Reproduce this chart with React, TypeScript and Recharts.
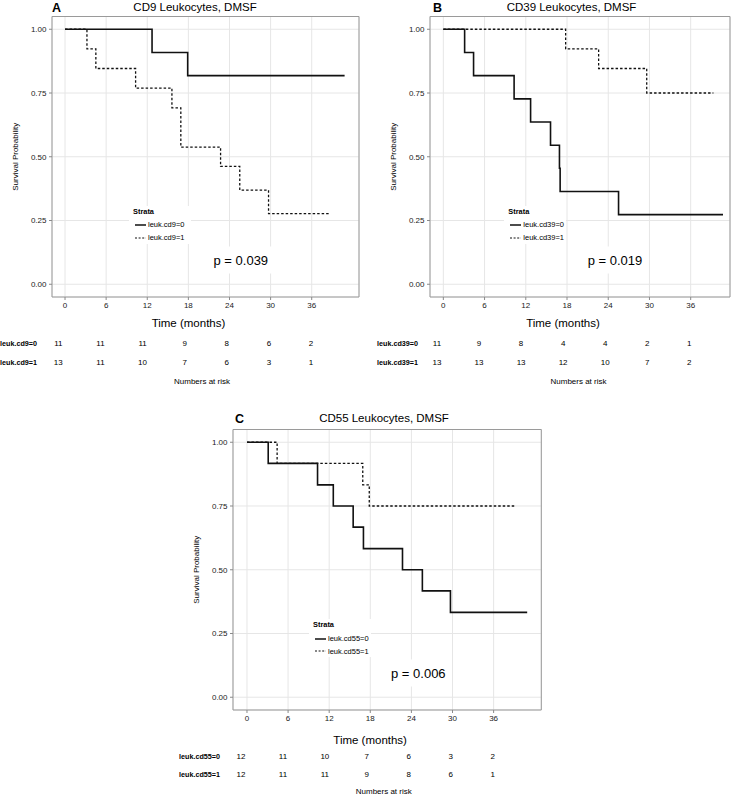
import React from 'react';
import { LineChart, Line, XAxis, YAxis, CartesianGrid, ReferenceArea, ScatterChart, Scatter, Label } from 'recharts';

const FONT = '"Liberation Sans", Arial, Helvetica, sans-serif';

// shared axis ticks
const monthTicks = [0, 6, 12, 18, 24, 30, 36];
const survTicks = [0, 0.25, 0.5, 0.75, 1];
const riskTimes = [0, 6, 12, 18, 24, 30, 36];

// Panel A - CD9
const cd9Time0 = [0, 12.7, 17.9, 40.8];
const cd9Surv0 = [1, 0.909, 0.818, 0.818];
const cd9Time1 = [0, 3.2, 4.5, 10.3, 15.6, 16.9, 22.7, 25.5, 29.7, 38.7];
const cd9Surv1 = [1, 0.923, 0.846, 0.769, 0.692, 0.538, 0.462, 0.369, 0.277, 0.277];
const cd9Risk0 = [11, 11, 11, 9, 8, 6, 2];
const cd9Risk1 = [13, 11, 10, 7, 6, 3, 1];

// Panel B - CD39
const cd39Time0 = [0, 3.1, 4.4, 10.3, 12.7, 15.6, 16.9, 17.0, 25.5, 40.7];
const cd39Surv0 = [1, 0.909, 0.818, 0.727, 0.636, 0.545, 0.455, 0.364, 0.273, 0.273];
const cd39Time1 = [0, 17.8, 22.6, 29.6, 39.3];
const cd39Surv1 = [1, 0.923, 0.846, 0.75, 0.75];
const cd39Risk0 = [11, 9, 8, 4, 4, 2, 1];
const cd39Risk1 = [13, 13, 13, 12, 10, 7, 2];

// Panel C - CD55
const cd55Time0 = [0, 3.1, 10.3, 12.6, 15.5, 17.0, 22.7, 25.6, 29.7, 40.9];
const cd55Surv0 = [1, 0.917, 0.833, 0.75, 0.667, 0.583, 0.5, 0.417, 0.333, 0.333];
const cd55Time1 = [0, 4.4, 16.9, 17.85, 39.3];
const cd55Surv1 = [1, 0.917, 0.833, 0.75, 0.75];
const cd55Risk0 = [12, 11, 10, 7, 6, 3, 2];
const cd55Risk1 = [12, 11, 11, 9, 8, 6, 1];

const toCurve = (time: number[], surv: number[]) => time.map((t, i) => ({ t, s: surv[i] }));

function MainPlot({ left, top, width, height, xDomain, axisH, solid, dashed }: any) {
  return (
    <div style={{ position: 'absolute', left, top }}>
      <LineChart width={width} height={height} margin={{ top: 16.5, right: 8, left: 0, bottom: 5 }}>
        <CartesianGrid stroke="#e6e6e6" />
        <XAxis
          type="number"
          dataKey="t"
          domain={xDomain}
          ticks={monthTicks}
          interval={0}
          allowDataOverflow
          axisLine={false}
          stroke="#8a8a8a"
          tickSize={3}
          tickMargin={2.5}
          tick={{ fontSize: 8, fill: '#1a1a1a' }}
          height={axisH}
        >
          <Label value="Time (months)" position="insideBottom" offset={0} dx={-17} fontSize={11.5} fill="#000" />
        </XAxis>
        <YAxis
          type="number"
          domain={[-0.05, 1.05]}
          ticks={survTicks}
          interval={0}
          allowDataOverflow
          axisLine={false}
          stroke="#8a8a8a"
          tickSize={3}
          tickMargin={2.5}
          tick={{ fontSize: 8, fill: '#1a1a1a' }}
          tickFormatter={(v: number) => v.toFixed(2)}
          width={52}
        >
          <Label value="Survival Probability" angle={-90} position="center" dx={-11} fontSize={8} fill="#000" />
        </YAxis>
        <ReferenceArea x1={xDomain[0]} x2={xDomain[1]} y1={-0.05} y2={1.05} fill="none" stroke="#9a9a9a" strokeWidth={1} />
        <Line data={solid} dataKey="s" type="stepAfter" stroke="#111" strokeWidth={1.6} dot={false} activeDot={false} isAnimationActive={false} />
        <Line data={dashed} dataKey="s" type="stepAfter" stroke="#111" strokeWidth={1.3} strokeDasharray="2.5 2" dot={false} activeDot={false} isAnimationActive={false} />
      </LineChart>
    </div>
  );
}

const RiskCount = (props: any) => (
  <text x={props.cx} y={props.cy} textAnchor="middle" dominantBaseline="central" fontSize={8} fill="#000">
    {props.payload.n}
  </text>
);

function RiskTable({ left, top, width, xDomain, labelW, marginTop, plotH, axisH, labels, rows }: any) {
  const data = rows.flatMap((counts: number[], r: number) => riskTimes.map((t, i) => ({ t, row: r, n: counts[i] })));
  return (
    <div style={{ position: 'absolute', left, top }}>
      <ScatterChart width={width} height={marginTop + plotH + axisH + 3} margin={{ top: marginTop, right: 0, left: 0, bottom: 3 }}>
        <XAxis type="number" dataKey="t" domain={xDomain} allowDataOverflow tick={false} tickLine={false} axisLine={false} height={axisH}>
          <Label value="Numbers at risk" position="insideBottom" offset={0} fontSize={8} fill="#000" />
        </XAxis>
        <YAxis
          type="number"
          dataKey="row"
          domain={[-0.5, 1.5]}
          ticks={[0, 1]}
          reversed
          width={labelW}
          tickSize={0}
          tickMargin={3}
          axisLine={false}
          tickLine={false}
          tickFormatter={(v: number) => labels[v]}
          tick={{ fontSize: 7.2, fontWeight: 'bold', fill: '#000' }}
        />
        <Scatter data={data} shape={RiskCount} isAnimationActive={false} />
      </ScatterChart>
    </div>
  );
}

function Legend({ x, y, labels }: any) {
  const row = (label: string, dashed: boolean, cy: number) => (
    <div style={{ position: 'absolute', left: 0, top: cy - 5, height: 10, display: 'flex', alignItems: 'center', whiteSpace: 'nowrap' }}>
      <svg width={15} height={10}>
        <line x1={2} x2={13} y1={5} y2={5} stroke="#111" strokeWidth={dashed ? 1.2 : 1.5} strokeDasharray={dashed ? '2 1.6' : undefined} />
      </svg>
      <span style={{ fontSize: 7.5, lineHeight: 1 }}>{label}</span>
    </div>
  );
  return (
    <div style={{ position: 'absolute', left: x - 4, top: y - 6, width: 62, height: 38, background: '#fff' }}>
      <div style={{ position: 'absolute', left: 4, top: 6, transform: 'translateY(-50%)', fontSize: 7.4, fontWeight: 'bold', lineHeight: 1 }}>Strata</div>
      <div style={{ position: 'absolute', left: 4, top: 6, width: 60 }}>
        {row(labels[0], false, 13.5)}
        {row(labels[1], true, 26.3)}
      </div>
    </div>
  );
}

const centered = (x: number, y: number, extra: any) => ({
  position: 'absolute' as const,
  left: x,
  top: y,
  transform: 'translate(-50%, -50%)',
  whiteSpace: 'nowrap' as const,
  lineHeight: 1,
  ...extra,
});

export default function App() {
  return (
    <div style={{ position: 'absolute', left: 0, top: 0, width: 738, height: 796, overflow: 'hidden', background: '#fff', fontFamily: FONT, color: '#000' }}>
      {/* A */}
      <MainPlot left={0} top={0} width={367} height={332} xDomain={[-1.9, 42.9]} axisH={30}
        solid={toCurve(cd9Time0, cd9Surv0)} dashed={toCurve(cd9Time1, cd9Surv1)} />
      <RiskTable left={0} top={332} width={364} xDomain={[-2.607, 43.55]} labelW={40} marginTop={2} plotH={37.4} axisH={13}
        labels={['leuk.cd9=0', 'leuk.cd9=1']} rows={[cd9Risk0, cd9Risk1]} />
      <div style={{ position: 'absolute', left: 52, top: 2, fontSize: 12.5, fontWeight: 'bold', lineHeight: 1 }}>A</div>
      <div style={centered(195, 8, { fontSize: 11.5 })}>CD9 Leukocytes, DMSF</div>
      <Legend x={133} y={211.7} labels={['leuk.cd9=0', 'leuk.cd9=1']} />
      <div style={centered(240.8, 260, { fontSize: 13, background: '#fff', padding: '7px 4px' })}>p = 0.039</div>

      {/* B */}
      <MainPlot left={378} top={0} width={360} height={332} xDomain={[-1.94, 41.72]} axisH={30}
        solid={toCurve(cd39Time0, cd39Surv0)} dashed={toCurve(cd39Time1, cd39Surv1)} />
      <RiskTable left={370} top={332} width={366} xDomain={[-2.283, 42.67]} labelW={51} marginTop={2} plotH={37.4} axisH={13}
        labels={['leuk.cd39=0', 'leuk.cd39=1']} rows={[cd39Risk0, cd39Risk1]} />
      <div style={{ position: 'absolute', left: 433, top: 2, fontSize: 12.5, fontWeight: 'bold', lineHeight: 1 }}>B</div>
      <div style={centered(571.5, 8, { fontSize: 11.5 })}>CD39 Leukocytes, DMSF</div>
      <Legend x={508.3} y={211.7} labels={['leuk.cd39=0', 'leuk.cd39=1']} />
      <div style={centered(615, 260, { fontSize: 13, background: '#fff', padding: '7px 4px' })}>p = 0.019</div>

      {/* C */}
      <MainPlot left={180.7} top={412.5} width={368.3} height={336} xDomain={[-2.04, 42.96]} axisH={34}
        solid={toCurve(cd55Time0, cd55Surv0)} dashed={toCurve(cd55Time1, cd55Surv1)} />
      <RiskTable left={170} top={746} width={374.6} xDomain={[-2.575, 43.43]} labelW={53} marginTop={1.9} plotH={35.2} axisH={10.6}
        labels={['leuk.cd55=0', 'leuk.cd55=1']} rows={[cd55Risk0, cd55Risk1]} />
      <div style={{ position: 'absolute', left: 235, top: 413, fontSize: 12.5, fontWeight: 'bold', lineHeight: 1 }}>C</div>
      <div style={centered(384, 419, { fontSize: 11.5 })}>CD55 Leukocytes, DMSF</div>
      <Legend x={313} y={625} labels={['leuk.cd55=0', 'leuk.cd55=1']} />
      <div style={centered(418.3, 672.7, { fontSize: 13, background: '#fff', padding: '7px 4px' })}>p = 0.006</div>
    </div>
  );
}
